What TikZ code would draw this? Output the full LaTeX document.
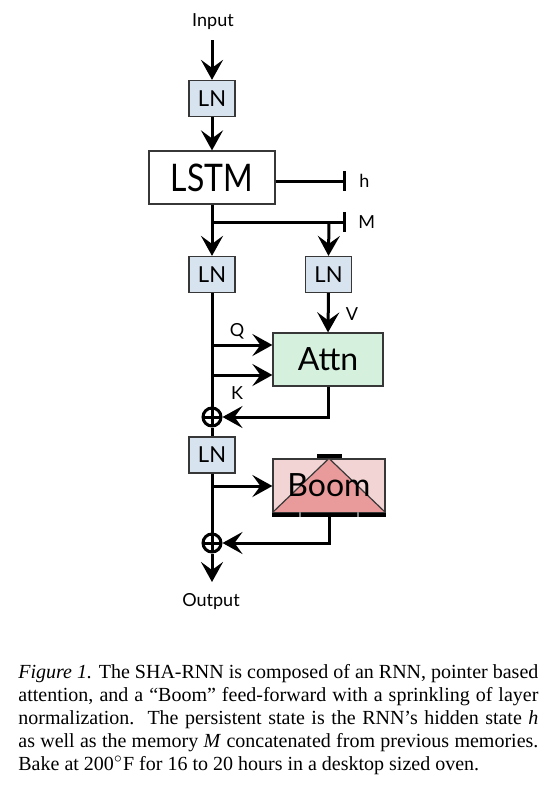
\documentclass[tikz,border=0pt]{standalone}
\usepackage{fontspec}
\setmainfont{Liberation Serif}
\newfontfamily\dfont{Lato}
\usetikzlibrary{arrows.meta,calc}
\definecolor{lnblue}{RGB}{215,228,240}
\definecolor{attngreen}{RGB}{213,241,221}
\definecolor{boombg}{RGB}{243,212,212}
\definecolor{boomtri}{RGB}{233,154,154}
\definecolor{edge}{RGB}{55,55,55}
\newcommand{\capline}[1]{\makebox[260pt][s]{#1}\par}
\begin{document}
\begin{tikzpicture}[x=0.5pt,y=-0.5pt,
 conn/.style={line width=1.5pt},
 arr/.style={conn,-{Stealth[length=10pt,width=11pt,inset=4pt]}},
 barend/.style={conn,-{Bar[width=10pt,line width=1.5pt]}},
 lnbox/.style={draw=edge,line width=0.6pt,fill=lnblue,minimum width=23pt,minimum height=18pt,inner sep=0pt,font=\dfont\fontsize{11}{11}\selectfont},
 bigbox/.style={draw=edge,line width=0.6pt,inner sep=0pt,minimum width=56pt,minimum height=26.5pt},
 bigtext/.style={inner sep=0pt,font=\dfont\fontsize{16}{16}\selectfont},
 lbl/.style={font=\dfont\fontsize{9}{9}\selectfont,inner sep=0pt},
 plusnode/.style={circle,draw,line width=1.5pt,minimum size=9pt,inner sep=0pt,
   path picture={\draw[line width=1.5pt] (path picture bounding box.north) -- (path picture bounding box.south) (path picture bounding box.west) -- (path picture bounding box.east);}}
]
\useasboundingbox (0,0) rectangle (547,794);
% nodes
\node[lbl] (input) at (213,22) {Input};
\node[lnbox] (ln1) at (212,98.5) {LN};
\node[bigbox,fill=white,minimum width=63pt] (lstm) at (212,177.5)
  {\dfont\fontsize{19}{19}\selectfont\scalebox{0.84}[1]{LSTM}};
\coordinate (hend) at (346,181);
\node[lbl,anchor=west] (hl) at (359,181) {h};
\coordinate (mj) at (212,222);
\coordinate (vj) at (329,222);
\coordinate (mend) at (346,222);
\node[lbl,anchor=west] (ml) at (358,222) {M};
\node[lnbox] (ln2) at (212,274.5) {LN};
\node[lnbox] (ln3) at (328.5,274.5) {LN};
\node[bigbox,fill=attngreen,minimum width=55pt] (attn) at (328,359.5) {};
\node[bigtext] (attntext) at (attn.center) {Attn};
\node[lbl] (vl) at (352,314) {V};
\node[lbl] (ql) at (237,331) {Q};
\node[lbl] (kl) at (237,393) {K};
\coordinate (qj) at (212,345);
\coordinate (kj) at (212,375);
\node[plusnode] (plus1) at (212,417) {};
\node[lnbox] (ln4) at (212,455) {LN};
\node[bigbox,fill=boombg] (boom) at (329,485.5) {};
\fill[boomtri] (boom.south west) -- (boom.north) -- (boom.south east) -- cycle;
\draw[edge,line width=0.6pt] (boom.south west) -- (boom.north) -- (boom.south east);
\node[bigtext] (boomtext) at (boom.center) {Boom};
\draw[edge,line width=0.6pt] (boom.south west) rectangle (boom.north east);
\draw[line width=2pt] ($(boom.north)+(-12,-2)$) -- ($(boom.north)+(13,-2)$);
\draw[line width=2pt] ($(boom.south west)+(0,2)$) -- ($(boom.south east)+(0,2)$);
\draw[gray,line width=0.6pt] (300,512) -- (300,517) (358,512) -- (358,517);
\coordinate (bj) at (212,486);
\node[plusnode] (plus2) at (212,543) {};
\coordinate (iend) at (212,40);
\coordinate (oend) at (212,582);
\node[lbl] (output) at (211,602) {Output};
% connectors
\draw[arr] (iend) -- (ln1.north);
\draw[arr] (ln1.south) -- (lstm.north);
\draw[barend] (lstm.east |- hend) -- (hend);
\draw[barend] (lstm.south) |- (mend);
\draw[arr] (mj) -- (ln2.north);
\draw[arr] (vj) -- (ln3.north);
\draw[arr] (ln3.south) -- (attn.north);
\draw[conn] (ln2.south) -- (plus1.north);
\draw[arr] (qj) -- (attn.west |- qj);
\draw[arr] (kj) -- (attn.west |- kj);
\draw[arr] (attn.south) |- (plus1.east);
\draw[conn] (plus1.south) -- (ln4.north);
\draw[arr] (bj) -- (boom.west |- bj);
\draw[conn] (ln4.south) -- (plus2.north);
\draw[arr] (boom.south) |- (plus2.east);
\draw[arr] (plus2.south) -- (oend);
% caption
\node[anchor=base west,inner sep=0pt] (caption) at (18,678) {\parbox[t]{260pt}{\fontsize{10}{11.5}\selectfont\parindent=0pt
\capline{\textit{Figure 1.} The SHA-RNN is composed of an RNN, pointer based}
\capline{attention, and a ``Boom'' feed-forward with a sprinkling of layer}
\capline{normalization.\ \ The persistent state is the RNN’s hidden state \textit{h}}
\capline{as well as the memory \textit{M} concatenated from previous memories.}
Bake at 200$^\circ$F for 16 to 20 hours in a desktop sized oven.}};
\end{tikzpicture}
\end{document}
